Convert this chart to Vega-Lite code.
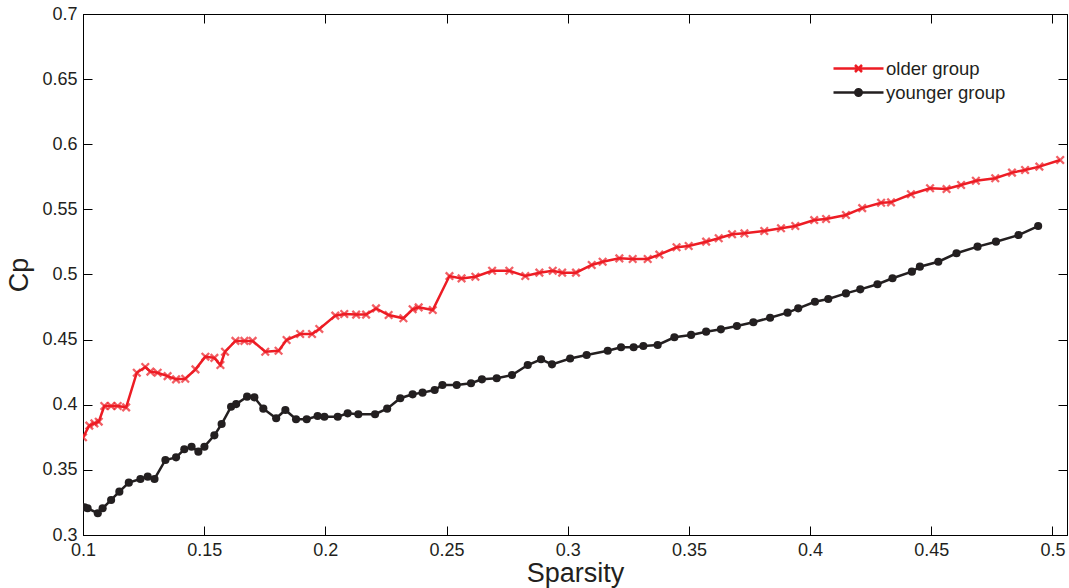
{
  "$schema": "https://vega.github.io/schema/vega-lite/v6.json",
  "width": 984,
  "height": 521,
  "autosize": "none",
  "padding": {"left": 83, "top": 14, "right": 2, "bottom": 53},
  "background": "white",
  "config": {
    "view": {"stroke": "#000000", "strokeWidth": 1},
    "font": "Liberation Sans",
    "axis": {
      "domainColor": "#000000",
      "tickColor": "#000000",
      "labelColor": "#231f20",
      "titleColor": "#231f20",
      "labelFont": "Liberation Sans",
      "titleFont": "Liberation Sans",
      "labelFontSize": 18,
      "titleFontSize": 27,
      "titleFontWeight": "normal",
      "grid": false,
      "tickSize": -9,
      "labelPadding": 15,
      "labelFlush": false
    }
  },
  "data": {"values": [
    {"x": 0.1000, "cp": 0.375, "group": "older group"},
    {"x": 0.1026, "cp": 0.384, "group": "older group"},
    {"x": 0.1047, "cp": 0.3857, "group": "older group"},
    {"x": 0.1065, "cp": 0.387, "group": "older group"},
    {"x": 0.1088, "cp": 0.399, "group": "older group"},
    {"x": 0.1116, "cp": 0.399, "group": "older group"},
    {"x": 0.1143, "cp": 0.399, "group": "older group"},
    {"x": 0.1178, "cp": 0.398, "group": "older group"},
    {"x": 0.1222, "cp": 0.4246, "group": "older group"},
    {"x": 0.1257, "cp": 0.429, "group": "older group"},
    {"x": 0.1278, "cp": 0.4254, "group": "older group"},
    {"x": 0.1308, "cp": 0.4246, "group": "older group"},
    {"x": 0.1349, "cp": 0.422, "group": "older group"},
    {"x": 0.1384, "cp": 0.4195, "group": "older group"},
    {"x": 0.1422, "cp": 0.420, "group": "older group"},
    {"x": 0.1464, "cp": 0.4272, "group": "older group"},
    {"x": 0.1505, "cp": 0.4369, "group": "older group"},
    {"x": 0.1542, "cp": 0.436, "group": "older group"},
    {"x": 0.1567, "cp": 0.4305, "group": "older group"},
    {"x": 0.1586, "cp": 0.4407, "group": "older group"},
    {"x": 0.1629, "cp": 0.449, "group": "older group"},
    {"x": 0.1666, "cp": 0.449, "group": "older group"},
    {"x": 0.1700, "cp": 0.449, "group": "older group"},
    {"x": 0.1752, "cp": 0.4407, "group": "older group"},
    {"x": 0.1807, "cp": 0.4415, "group": "older group"},
    {"x": 0.1840, "cp": 0.4497, "group": "older group"},
    {"x": 0.1896, "cp": 0.4543, "group": "older group"},
    {"x": 0.1945, "cp": 0.4543, "group": "older group"},
    {"x": 0.1975, "cp": 0.4582, "group": "older group"},
    {"x": 0.2041, "cp": 0.4684, "group": "older group"},
    {"x": 0.2078, "cp": 0.4697, "group": "older group"},
    {"x": 0.2127, "cp": 0.4692, "group": "older group"},
    {"x": 0.2168, "cp": 0.4692, "group": "older group"},
    {"x": 0.2209, "cp": 0.4740, "group": "older group"},
    {"x": 0.2261, "cp": 0.4689, "group": "older group"},
    {"x": 0.2322, "cp": 0.4664, "group": "older group"},
    {"x": 0.2360, "cp": 0.4733, "group": "older group"},
    {"x": 0.2385, "cp": 0.4748, "group": "older group"},
    {"x": 0.2443, "cp": 0.4727, "group": "older group"},
    {"x": 0.2512, "cp": 0.4988, "group": "older group"},
    {"x": 0.2562, "cp": 0.497, "group": "older group"},
    {"x": 0.2619, "cp": 0.4983, "group": "older group"},
    {"x": 0.2688, "cp": 0.5029, "group": "older group"},
    {"x": 0.2759, "cp": 0.5029, "group": "older group"},
    {"x": 0.2825, "cp": 0.4988, "group": "older group"},
    {"x": 0.2883, "cp": 0.5014, "group": "older group"},
    {"x": 0.2938, "cp": 0.5029, "group": "older group"},
    {"x": 0.2977, "cp": 0.5014, "group": "older group"},
    {"x": 0.3034, "cp": 0.5014, "group": "older group"},
    {"x": 0.3099, "cp": 0.5073, "group": "older group"},
    {"x": 0.3144, "cp": 0.5098, "group": "older group"},
    {"x": 0.3213, "cp": 0.5124, "group": "older group"},
    {"x": 0.3268, "cp": 0.5119, "group": "older group"},
    {"x": 0.3330, "cp": 0.5119, "group": "older group"},
    {"x": 0.3378, "cp": 0.5153, "group": "older group"},
    {"x": 0.3449, "cp": 0.5209, "group": "older group"},
    {"x": 0.3499, "cp": 0.5219, "group": "older group"},
    {"x": 0.3571, "cp": 0.5252, "group": "older group"},
    {"x": 0.3623, "cp": 0.5278, "group": "older group"},
    {"x": 0.3678, "cp": 0.5309, "group": "older group"},
    {"x": 0.3729, "cp": 0.5316, "group": "older group"},
    {"x": 0.3811, "cp": 0.5334, "group": "older group"},
    {"x": 0.3880, "cp": 0.5355, "group": "older group"},
    {"x": 0.3939, "cp": 0.5372, "group": "older group"},
    {"x": 0.4017, "cp": 0.5418, "group": "older group"},
    {"x": 0.4066, "cp": 0.5426, "group": "older group"},
    {"x": 0.4148, "cp": 0.5457, "group": "older group"},
    {"x": 0.4215, "cp": 0.551, "group": "older group"},
    {"x": 0.4293, "cp": 0.5551, "group": "older group"},
    {"x": 0.4334, "cp": 0.5554, "group": "older group"},
    {"x": 0.4416, "cp": 0.5616, "group": "older group"},
    {"x": 0.4495, "cp": 0.5662, "group": "older group"},
    {"x": 0.4563, "cp": 0.5656, "group": "older group"},
    {"x": 0.4623, "cp": 0.5687, "group": "older group"},
    {"x": 0.4684, "cp": 0.572, "group": "older group"},
    {"x": 0.4764, "cp": 0.5739, "group": "older group"},
    {"x": 0.4833, "cp": 0.5782, "group": "older group"},
    {"x": 0.4887, "cp": 0.5802, "group": "older group"},
    {"x": 0.4946, "cp": 0.5828, "group": "older group"},
    {"x": 0.5032, "cp": 0.5879, "group": "older group"},
    {"x": 0.1006, "cp": 0.3213, "group": "younger group"},
    {"x": 0.1019, "cp": 0.3205, "group": "younger group"},
    {"x": 0.1061, "cp": 0.3167, "group": "younger group"},
    {"x": 0.1081, "cp": 0.3205, "group": "younger group"},
    {"x": 0.1116, "cp": 0.3269, "group": "younger group"},
    {"x": 0.1150, "cp": 0.3333, "group": "younger group"},
    {"x": 0.1189, "cp": 0.3402, "group": "younger group"},
    {"x": 0.1237, "cp": 0.343, "group": "younger group"},
    {"x": 0.1267, "cp": 0.3448, "group": "younger group"},
    {"x": 0.1295, "cp": 0.343, "group": "younger group"},
    {"x": 0.1340, "cp": 0.3576, "group": "younger group"},
    {"x": 0.1384, "cp": 0.3596, "group": "younger group"},
    {"x": 0.1418, "cp": 0.3658, "group": "younger group"},
    {"x": 0.1448, "cp": 0.3678, "group": "younger group"},
    {"x": 0.1476, "cp": 0.364, "group": "younger group"},
    {"x": 0.1501, "cp": 0.3678, "group": "younger group"},
    {"x": 0.1542, "cp": 0.3765, "group": "younger group"},
    {"x": 0.1572, "cp": 0.3852, "group": "younger group"},
    {"x": 0.1611, "cp": 0.3985, "group": "younger group"},
    {"x": 0.1632, "cp": 0.4005, "group": "younger group"},
    {"x": 0.1677, "cp": 0.4062, "group": "younger group"},
    {"x": 0.1707, "cp": 0.4057, "group": "younger group"},
    {"x": 0.1744, "cp": 0.397, "group": "younger group"},
    {"x": 0.1797, "cp": 0.3896, "group": "younger group"},
    {"x": 0.1835, "cp": 0.396, "group": "younger group"},
    {"x": 0.1879, "cp": 0.3889, "group": "younger group"},
    {"x": 0.1923, "cp": 0.3889, "group": "younger group"},
    {"x": 0.1968, "cp": 0.3914, "group": "younger group"},
    {"x": 0.1996, "cp": 0.3908, "group": "younger group"},
    {"x": 0.2051, "cp": 0.3908, "group": "younger group"},
    {"x": 0.2092, "cp": 0.3934, "group": "younger group"},
    {"x": 0.2136, "cp": 0.3927, "group": "younger group"},
    {"x": 0.2205, "cp": 0.3927, "group": "younger group"},
    {"x": 0.2255, "cp": 0.397, "group": "younger group"},
    {"x": 0.2309, "cp": 0.405, "group": "younger group"},
    {"x": 0.2360, "cp": 0.408, "group": "younger group"},
    {"x": 0.2401, "cp": 0.4093, "group": "younger group"},
    {"x": 0.2451, "cp": 0.4113, "group": "younger group"},
    {"x": 0.2483, "cp": 0.4152, "group": "younger group"},
    {"x": 0.2542, "cp": 0.4152, "group": "younger group"},
    {"x": 0.2601, "cp": 0.4165, "group": "younger group"},
    {"x": 0.2646, "cp": 0.4195, "group": "younger group"},
    {"x": 0.2707, "cp": 0.4203, "group": "younger group"},
    {"x": 0.2770, "cp": 0.4228, "group": "younger group"},
    {"x": 0.2835, "cp": 0.4305, "group": "younger group"},
    {"x": 0.2890, "cp": 0.4349, "group": "younger group"},
    {"x": 0.2935, "cp": 0.431, "group": "younger group"},
    {"x": 0.3010, "cp": 0.4355, "group": "younger group"},
    {"x": 0.3078, "cp": 0.4382, "group": "younger group"},
    {"x": 0.3165, "cp": 0.4415, "group": "younger group"},
    {"x": 0.3220, "cp": 0.4441, "group": "younger group"},
    {"x": 0.3272, "cp": 0.4441, "group": "younger group"},
    {"x": 0.3312, "cp": 0.4451, "group": "younger group"},
    {"x": 0.3371, "cp": 0.4459, "group": "younger group"},
    {"x": 0.3440, "cp": 0.4518, "group": "younger group"},
    {"x": 0.3509, "cp": 0.4536, "group": "younger group"},
    {"x": 0.3571, "cp": 0.4561, "group": "younger group"},
    {"x": 0.3632, "cp": 0.4579, "group": "younger group"},
    {"x": 0.3698, "cp": 0.4605, "group": "younger group"},
    {"x": 0.3766, "cp": 0.4633, "group": "younger group"},
    {"x": 0.3835, "cp": 0.4668, "group": "younger group"},
    {"x": 0.3907, "cp": 0.4707, "group": "younger group"},
    {"x": 0.3951, "cp": 0.474, "group": "younger group"},
    {"x": 0.4020, "cp": 0.4791, "group": "younger group"},
    {"x": 0.4075, "cp": 0.4812, "group": "younger group"},
    {"x": 0.4148, "cp": 0.4855, "group": "younger group"},
    {"x": 0.4207, "cp": 0.4886, "group": "younger group"},
    {"x": 0.4278, "cp": 0.4925, "group": "younger group"},
    {"x": 0.4340, "cp": 0.4971, "group": "younger group"},
    {"x": 0.4420, "cp": 0.5022, "group": "younger group"},
    {"x": 0.4453, "cp": 0.506, "group": "younger group"},
    {"x": 0.4529, "cp": 0.5098, "group": "younger group"},
    {"x": 0.4604, "cp": 0.5163, "group": "younger group"},
    {"x": 0.4691, "cp": 0.5214, "group": "younger group"},
    {"x": 0.4767, "cp": 0.5252, "group": "younger group"},
    {"x": 0.4860, "cp": 0.5303, "group": "younger group"},
    {"x": 0.4941, "cp": 0.5372, "group": "younger group"}
  ]},
  "resolve": {"axis": {"x": "independent", "y": "independent"}},
  "layer": [
    {
      "mark": {"type": "line", "strokeWidth": 2.5, "clip": true},
      "encoding": {
        "x": {"field": "x", "type": "quantitative", "title": "Sparsity",
              "scale": {"domain": [0.1, 0.506], "nice": false, "zero": false},
              "axis": {"values": [0.1, 0.15, 0.2, 0.25, 0.3, 0.35, 0.4, 0.45, 0.5], "format": "~g", "titlePadding": 1}},
        "y": {"field": "cp", "type": "quantitative", "title": "Cp",
              "scale": {"domain": [0.3, 0.7], "nice": false, "zero": false},
              "axis": {"values": [0.3, 0.35, 0.4, 0.45, 0.5, 0.55, 0.6, 0.65, 0.7], "format": "~g", "titlePadding": 8}},
        "color": {"field": "group", "type": "nominal",
                  "scale": {"domain": ["older group", "younger group"], "range": ["#ed1c24", "#231f20"]},
                  "legend": {
                    "title": null, "orient": "none", "legendX": 774, "legendY": 40.5,
                    "padding": 0, "rowPadding": 0, "offset": 0,
                    "symbolSize": 625, "symbolStrokeWidth": 2.5,
                    "labelFont": "Liberation Sans", "labelFontSize": 18.5, "labelColor": "#231f20", "labelOffset": 1,
                    "encode": {"symbols": {"update": {
                      "shape": {"signal": "datum.value === 'older group' ? 'M-3,0H1M-1.28,-0.28L-0.72,0.28M-1.28,0.28L-0.72,-0.28' : 'M-3,0H1M-1.26,0A0.26,0.26 0 1,0 -0.74,0A0.26,0.26 0 1,0 -1.26,0Z'"},
                      "fill": {"signal": "datum.value === 'older group' ? 'transparent' : '#231f20'"}
                    }}}
                  }}
      }
    },
    {
      "transform": [{"filter": "datum.group === 'older group'"}],
      "mark": {"type": "point", "shape": "M-1,-1L1,1M-1,1L1,-1", "size": 56, "strokeWidth": 2.3, "filled": false, "color": "#ed1c24", "clip": true},
      "encoding": {
        "x": {"field": "x", "type": "quantitative", "scale": {"domain": [0.1, 0.506], "nice": false, "zero": false},
              "axis": {"orient": "top", "values": [0.1, 0.15, 0.2, 0.25, 0.3, 0.35, 0.4, 0.45, 0.5], "labels": false, "title": null}},
        "y": {"field": "cp", "type": "quantitative", "scale": {"domain": [0.3, 0.7], "nice": false, "zero": false},
              "axis": {"orient": "right", "values": [0.3, 0.35, 0.4, 0.45, 0.5, 0.55, 0.6, 0.65, 0.7], "labels": false, "title": null}}
      }
    },
    {
      "transform": [{"filter": "datum.group === 'younger group'"}],
      "mark": {"type": "point", "shape": "circle", "size": 66, "filled": true, "opacity": 1, "color": "#231f20", "clip": true},
      "encoding": {
        "x": {"field": "x", "type": "quantitative", "scale": {"domain": [0.1, 0.506], "nice": false, "zero": false}, "axis": null},
        "y": {"field": "cp", "type": "quantitative", "scale": {"domain": [0.3, 0.7], "nice": false, "zero": false}, "axis": null}
      }
    }
  ]
}
